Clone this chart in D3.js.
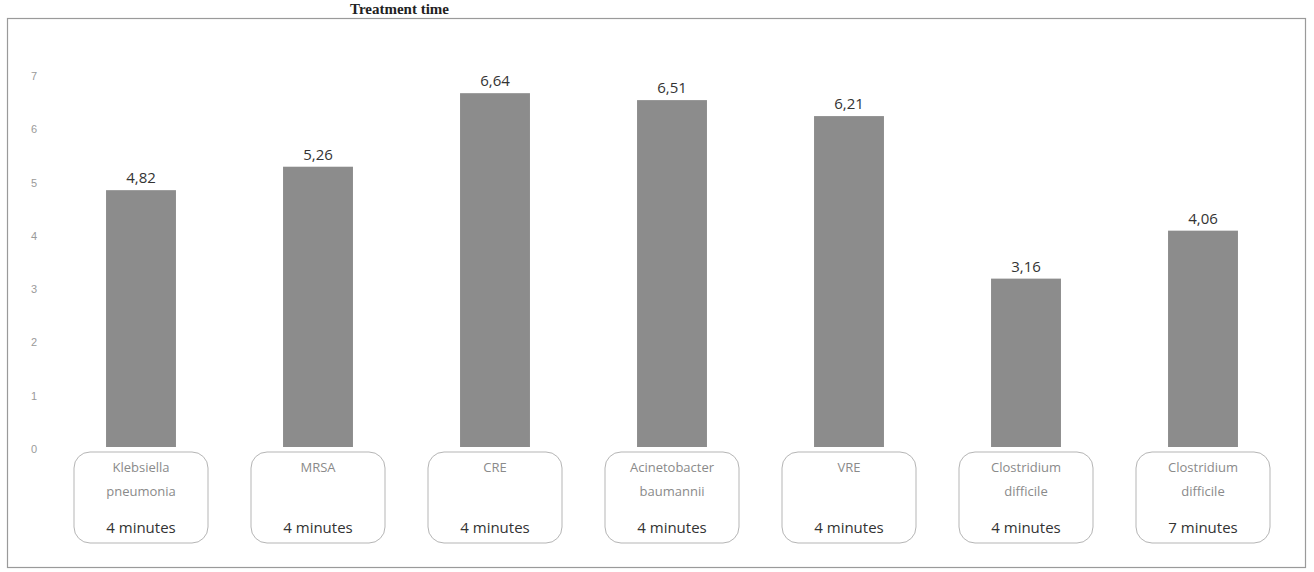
<!DOCTYPE html>
<html>
<head>
<meta charset="utf-8">
<script src="https://cdn.jsdelivr.net/npm/d3@7"></script>
<style>
  html, body { margin: 0; padding: 0; background: #fff; }
  svg { display: block; }
</style>
</head>
<body>
<svg id="chart" width="1314" height="572"></svg>
<script>
const categories = ["Klebsiella pneumonia", "MRSA", "CRE", "Acinetobacter baumannii", "VRE", "Clostridium difficile (4)", "Clostridium difficile (7)"];
const nameLines = [["Klebsiella", "pneumonia"], ["MRSA"], ["CRE"], ["Acinetobacter", "baumannii"], ["VRE"], ["Clostridium", "difficile"], ["Clostridium", "difficile"]];
const durations = ["4 minutes", "4 minutes", "4 minutes", "4 minutes", "4 minutes", "4 minutes", "7 minutes"];
const values = [4.82, 5.26, 6.64, 6.51, 6.21, 3.16, 4.06];
const yTicks = [0, 1, 2, 3, 4, 5, 6, 7];
const titleText = "Treatment time";

const svg = d3.select("#chart");
const fmt = v => d3.format(".2f")(v).replace(".", ",");

// Title (sits at the very top edge, above the frame)
svg.append("text")
  .attr("x", 350).attr("y", 14)
  .attr("font-family", "'Liberation Serif', 'DejaVu Serif', serif")
  .attr("font-weight", "bold")
  .attr("font-size", 15)
  .attr("fill", "#222")
  .text(titleText);

// Chart frame
svg.append("rect")
  .attr("x", 7.5).attr("y", 18.5)
  .attr("width", 1298).attr("height", 549)
  .attr("fill", "none")
  .attr("stroke", "#9a9a9a")
  .attr("stroke-width", 1.2);

const x = d3.scaleBand()
  .domain(categories)
  .range([52.5, 1291.5])
  .paddingInner(0.605)
  .paddingOuter(0.3025);

const y = d3.scaleLinear()
  .domain([0, 7])
  .range([447, 74]);

// Y axis (labels only)
const yAxis = d3.axisLeft(y).tickValues(yTicks).tickSize(0).tickPadding(3).tickFormat(d3.format("d"));
const gy = svg.append("g").attr("transform", "translate(40,2)").call(yAxis);
gy.select(".domain").remove();
gy.selectAll("text")
  .attr("font-family", "'Liberation Sans', 'DejaVu Sans', sans-serif")
  .attr("font-size", 11)
  .attr("fill", "#9a9a9a");

// Bars
svg.append("g").selectAll("rect")
  .data(values)
  .join("rect")
  .attr("x", (d, i) => x(categories[i]))
  .attr("y", d => y(d))
  .attr("width", x.bandwidth())
  .attr("height", d => y(0) - y(d))
  .attr("fill", "#8c8c8c");

// Value labels
svg.append("g").selectAll("text")
  .data(values)
  .join("text")
  .attr("x", (d, i) => x(categories[i]) + x.bandwidth() / 2)
  .attr("y", d => y(d) - 7)
  .attr("text-anchor", "middle")
  .attr("font-family", "'Open Sans', 'Liberation Sans', sans-serif")
  .attr("font-size", 15)
  .attr("fill", "#333")
  .text(d => fmt(d));

// Category boxes
const boxW = 134, boxH = 91, boxTop = 452;
const boxes = svg.append("g").selectAll("g")
  .data(categories)
  .join("g")
  .attr("transform", d => `translate(${x(d) + x.bandwidth() / 2},0)`);

boxes.append("rect")
  .attr("x", -boxW / 2).attr("y", boxTop)
  .attr("width", boxW).attr("height", boxH)
  .attr("rx", 16).attr("ry", 16)
  .attr("fill", "#fff")
  .attr("stroke", "#b5b5b5")
  .attr("stroke-width", 1);

boxes.each(function(d, i) {
  const g = d3.select(this);
  nameLines[i].forEach((line, j) => {
    g.append("text")
      .attr("x", 0)
      .attr("y", 472 + j * 24)
      .attr("text-anchor", "middle")
      .attr("font-family", "'Open Sans', 'Liberation Sans', sans-serif")
      .attr("font-size", 13)
      .attr("fill", "#8a8a8a")
      .text(line);
  });
  g.append("text")
    .attr("x", 0)
    .attr("y", 533)
    .attr("text-anchor", "middle")
    .attr("font-family", "'Open Sans', 'Liberation Sans', sans-serif")
    .attr("font-size", 15)
    .attr("fill", "#333")
    .text(durations[i]);
});
</script>
</body>
</html>
